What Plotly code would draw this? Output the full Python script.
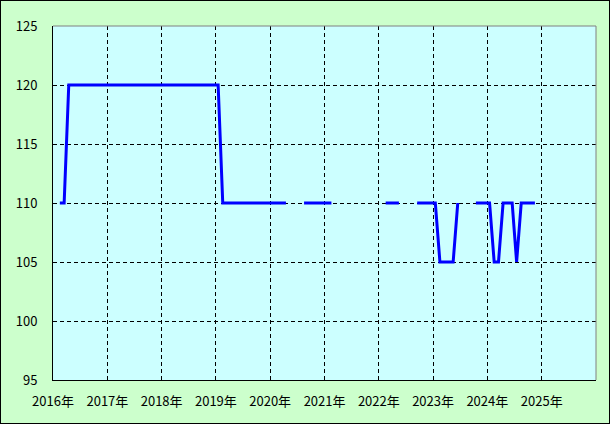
import plotly.graph_objects as go

years = [2016, 2017, 2018, 2019, 2020, 2021, 2022, 2023, 2024]
vals_2016 = [None, 110, 110, 120, 120, 120, 120, 120, 120, 120, 120, 120]
vals_2017 = [120, 120, 120, 120, 120, 120, 120, 120, 120, 120, 120, 120]
vals_2018 = [120, 120, 120, 120, 120, 120, 120, 120, 120, 120, 120, 120]
vals_2019 = [120, 110, 110, 110, 110, 110, 110, 110, 110, 110, 110, 110]
vals_2020 = [110, 110, 110, 110, None, None, None, 110, 110, 110, 110, 110]
vals_2021 = [110, 110, None, None, None, None, None, None, None, None, None, None]
vals_2022 = [None, 110, 110, 110, 110, None, None, None, 110, 110, 110, 110]
vals_2023 = [110, 105, 105, 105, 105, 110, None, None, None, 110, 110, 110]
vals_2024 = [110, 105, 105, 110, 110, 110, 105, 110, 110, 110, 110, None]
yearly_vals = [vals_2016, vals_2017, vals_2018, vals_2019, vals_2020,
               vals_2021, vals_2022, vals_2023, vals_2024]

tick_years = [2016, 2017, 2018, 2019, 2020, 2021, 2022, 2023, 2024, 2025]
tick_labels = [f"{y}年" for y in tick_years]
y_ticks = [95, 100, 105, 110, 115, 120, 125]

xs, ys = [], []
for yr, vals in zip(years, yearly_vals):
    for m, v in enumerate(vals, start=1):
        xs.append(f"{yr}-{m:02d}-16")
        ys.append(v)

fig = go.Figure()
fig.add_trace(go.Scatter(x=xs, y=ys, mode="lines", connectgaps=False,
                         line=dict(color="#0000FF", width=3), hoverinfo="skip"))

font_family = "Noto Sans CJK JP, DejaVu Sans, sans-serif"
fig.update_layout(
    width=610, height=424,
    margin=dict(l=53, r=14, t=26, b=44),
    paper_bgcolor="#CCFFCC",
    plot_bgcolor="#CCFFFF",
    showlegend=False,
    font=dict(family=font_family, size=13, color="black"),
    xaxis=dict(
        type="date",
        range=["2016-01-01", "2026-01-01"],
        tickvals=[f"{y}-01-01" for y in tick_years],
        ticktext=tick_labels,
        showgrid=True, gridcolor="black", griddash="4px,3px", gridwidth=1,
        showline=True, linecolor="black", linewidth=1,
        ticks="", ticklabelstandoff=9,
        zeroline=False,
    ),
    yaxis=dict(
        range=[95, 125],
        tickvals=y_ticks,
        showgrid=True, gridcolor="black", griddash="4px,3px", gridwidth=1,
        showline=True, linecolor="black", linewidth=1,
        ticks="", ticklabelstandoff=12,
        zeroline=False,
    ),
    shapes=[
        dict(type="line", xref="paper", yref="paper", x0=0, x1=1, y0=1, y1=1,
             line=dict(color="#808080", width=1)),
        dict(type="line", xref="paper", yref="paper", x0=1, x1=1, y0=0, y1=1,
             line=dict(color="#808080", width=1)),
        dict(type="rect", xref="paper", yref="paper",
             x0=-53 / 543, x1=(610 - 53) / 543, y0=-44 / 354, y1=(424 - 44) / 354,
             line=dict(color="black", width=2)),
    ],
)

fig.write_html("out.html", config={"displayModeBar": False},
               post_script="document.body.style.margin='0';document.body.style.overflow='hidden';")
